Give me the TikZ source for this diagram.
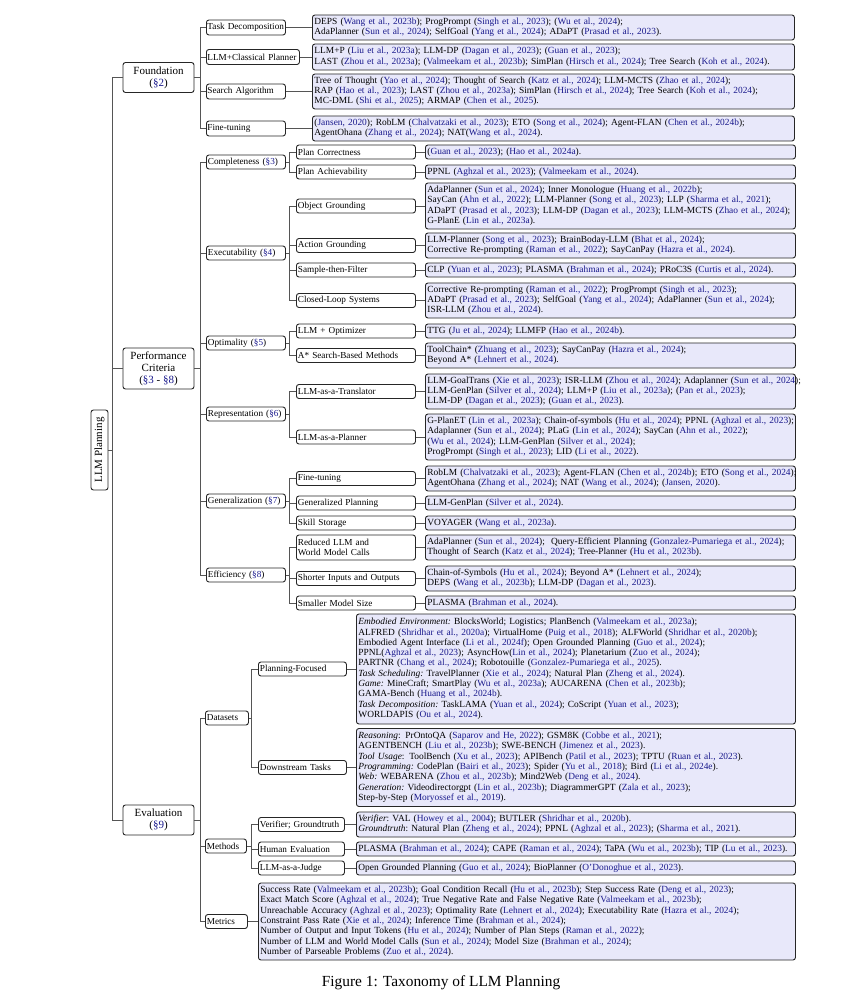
\documentclass[tikz,border=0pt]{standalone}
\usepackage{fontspec}
\setmainfont{Liberation Serif}
\usetikzlibrary{calc}
\definecolor{citeblue}{rgb}{0.1,0.1,0.55}
\definecolor{leaffill}{RGB}{232,232,250}
\definecolor{linegray}{RGB}{85,85,85}
\newcommand{\cty}[1]{(\textcolor{citeblue}{#1})}
\newcommand{\sref}[1]{\textcolor{citeblue}{§#1}}
\newcommand{\rows}[1]{\begin{tabular}{@{}l@{}}#1\end{tabular}}
\tikzset{
  anybox/.style={draw=black!85, line width=0.9pt, rounded corners=2.5pt},
  leafbox/.style={anybox, fill=leaffill, anchor=west, align=left, inner xsep=2pt, inner ysep=0pt, font=\fontsize{9.4}{10.3}\selectfont},
  midbox/.style={anybox, fill=white, anchor=west, align=left, inner xsep=1.5pt, inner ysep=0pt, minimum height=14pt, font=\fontsize{9.2}{10.3}\selectfont},
  lvlone/.style={anybox, fill=white, align=center, inner sep=0pt, minimum width=71pt, font=\fontsize{11}{12.2}\selectfont},
  conn/.style={draw=linegray, line width=0.8pt},
}
\begin{document}
\begin{tikzpicture}[x=1pt,y=-1pt]
\fill[white] (0,0) rectangle (854,1000);
\useasboundingbox (0,0) rectangle (854,1000);

% root and level 1
\node[anybox, fill=white, rotate=90, minimum width=80pt, minimum height=17pt, inner sep=0pt, font=\fontsize{11}{12.2}\selectfont] (root) at (99.5,450) {LLM Planning};
\node[lvlone, minimum height=30pt] (found) at (158.5,77.5) {Foundation\\(\sref{2})};
\node[lvlone, minimum height=41pt] (perf) at (158.5,368.5) {Performance\\Criteria\\(\sref{3} - \sref{8})};
\node[lvlone, minimum height=30pt] (eval) at (158.5,820) {Evaluation\\(\sref{9})};

\coordinate (b0) at (112,0);
\coordinate (b1) at (200,0);
\coordinate (b2) at (289,0);
\coordinate (b3) at (251.5,0);

% ---------------- Foundation ----------------
\node[midbox, inner xsep=1pt, text width=77pt, minimum height=15pt] (fTD) at (206,27.5) {Task Decomposition};
\node[midbox, inner xsep=1pt, text width=91pt, minimum height=15pt] (fLCP) at (206,57) {LLM+Classical Planner};
\node[midbox, inner xsep=1pt, text width=77pt, minimum height=15pt] (fSA) at (206,91.5) {Search Algorithm};
\node[midbox, inner xsep=1pt, text width=77pt, minimum height=15pt] (fFT) at (206,128.5) {Fine-tuning};

\node[leafbox, text width=478pt, minimum height=25pt] (lTD) at (312,27.5) {\rows{DEPS \cty{Wang et al., 2023b}; ProgPrompt \cty{Singh et al., 2023}; \cty{Wu et al., 2024};\\
AdaPlanner \cty{Sun et al., 2024}; SelfGoal \cty{Yang et al., 2024}; ADaPT \cty{Prasad et al., 2023}.}};
\node[leafbox, text width=478pt, minimum height=26pt] (lLCP) at (312,57) {\rows{LLM+P \cty{Liu et al., 2023a}; LLM-DP \cty{Dagan et al., 2023}; \cty{Guan et al., 2023};\\
LAST \cty{Zhou et al., 2023a}; \cty{Valmeekam et al., 2023b}; SimPlan \cty{Hirsch et al., 2024}; Tree Search \cty{Koh et al., 2024}.}};
\node[leafbox, text width=478pt, minimum height=35pt] (lSA) at (312,91.5) {\rows{Tree of Thought \cty{Yao et al., 2024}; Thought of Search \cty{Katz et al., 2024}; LLM-MCTS \cty{Zhao et al., 2024};\\
RAP \cty{Hao et al., 2023}; LAST \cty{Zhou et al., 2023a}; SimPlan \cty{Hirsch et al., 2024}; Tree Search \cty{Koh et al., 2024};\\
MC-DML \cty{Shi et al., 2025}; ARMAP \cty{Chen et al., 2025}.}};
\node[leafbox, text width=478pt, minimum height=25pt] (lFT) at (312,128.5) {\rows{\cty{Jansen, 2020}; RobLM \cty{Chalvatzaki et al., 2023}; ETO \cty{Song et al., 2024}; Agent-FLAN \cty{Chen et al., 2024b};\\
AgentOhana \cty{Zhang et al., 2024}; NAT\cty{Wang et al., 2024}.}};

% ---------------- Performance ----------------
\node[midbox, text width=76pt] (cmp) at (206,162) {Completeness (\sref{3})};
\node[midbox, text width=76pt] (exe) at (206,253) {Executability (\sref{4})};
\node[midbox, text width=76pt] (opt) at (206,343) {Optimality (\sref{5})};
\node[midbox, text width=76pt] (rep) at (206,414) {Representation (\sref{6})};
\node[midbox, text width=76pt] (gen) at (206,501) {Generalization (\sref{7})};
\node[midbox, text width=76pt] (eff) at (206,575) {Efficiency (\sref{8})};

\node[midbox, text width=116pt] (pc) at (296,152) {Plan Correctness};
\node[midbox, text width=116pt] (pa) at (296,172) {Plan Achievability};
\node[midbox, text width=116pt] (og) at (296,206) {Object Grounding};
\node[midbox, text width=116pt] (ag) at (296,245.5) {Action Grounding};
\node[midbox, text width=116pt] (stf) at (296,270) {Sample-then-Filter};
\node[midbox, text width=116pt] (cls) at (296,300.5) {Closed-Loop Systems};
\node[midbox, text width=116pt] (lo) at (296,331) {LLM + Optimizer};
\node[midbox, text width=116pt] (astar) at (296,355.5) {A* Search-Based Methods};
\node[midbox, text width=116pt] (lat) at (296,391.5) {LLM-as-a-Translator};
\node[midbox, text width=116pt] (lap) at (296,437) {LLM-as-a-Planner};
\node[midbox, text width=116pt] (ftg) at (296,478.5) {Fine-tuning};
\node[midbox, text width=116pt] (gp) at (296,503) {Generalized Planning};
\node[midbox, text width=116pt] (ss) at (296,523) {Skill Storage};
\node[midbox, text width=116pt, minimum height=25pt] (rlm) at (296,547.5) {Reduced LLM and\\World Model Calls};
\node[midbox, text width=116pt] (sio) at (296,578.5) {Shorter Inputs and Outputs};
\node[midbox, text width=116pt] (sms) at (296,603) {Smaller Model Size};

\node[leafbox, text width=366pt, minimum height=14pt] (lpc) at (425,152) {\rows{\cty{Guan et al., 2023}; \cty{Hao et al., 2024a}.}};
\node[leafbox, text width=366pt, minimum height=14pt] (lpa) at (425,172) {\rows{PPNL \cty{Aghzal et al., 2023}; \cty{Valmeekam et al., 2024}.}};
\node[leafbox, text width=366pt, minimum height=46pt] (log) at (425,206) {\rows{AdaPlanner \cty{Sun et al., 2024}; Inner Monologue \cty{Huang et al., 2022b};\\
SayCan \cty{Ahn et al., 2022}; LLM-Planner \cty{Song et al., 2023}; LLP \cty{Sharma et al., 2021};\\
ADaPT \cty{Prasad et al., 2023}; LLM-DP \cty{Dagan et al., 2023}; LLM-MCTS \cty{Zhao et al., 2024};\\
G-PlanE \cty{Lin et al., 2023a}.}};
\node[leafbox, text width=366pt, minimum height=25pt] (lag) at (425,245.5) {\rows{LLM-Planner \cty{Song et al., 2023}; BrainBoday-LLM \cty{Bhat et al., 2024};\\
Corrective Re-prompting \cty{Raman et al., 2022}; SayCanPay \cty{Hazra et al., 2024}.}};
\node[leafbox, text width=366pt, minimum height=14pt] (lstf) at (425,270) {\rows{CLP \cty{Yuan et al., 2023}; PLASMA \cty{Brahman et al., 2024}; PRoC3S \cty{Curtis et al., 2024}.}};
\node[leafbox, text width=366pt, minimum height=35pt] (lcls) at (425,300.5) {\rows{Corrective Re-prompting \cty{Raman et al., 2022}; ProgPrompt \cty{Singh et al., 2023};\\
ADaPT \cty{Prasad et al., 2023}; SelfGoal \cty{Yang et al., 2024}; AdaPlanner \cty{Sun et al., 2024};\\
ISR-LLM \cty{Zhou et al., 2024}.}};
\node[leafbox, text width=366pt, minimum height=14pt] (llo) at (425,331) {\rows{TTG \cty{Ju et al., 2024}; LLMFP \cty{Hao et al., 2024b}.}};
\node[leafbox, text width=366pt, minimum height=25pt] (lastar) at (425,355.5) {\rows{ToolChain* \cty{Zhuang et al., 2023}; SayCanPay \cty{Hazra et al., 2024};\\
Beyond A* \cty{Lehnert et al., 2024}.}};
\node[leafbox, text width=366pt, minimum height=35pt] (llat) at (425,391.5) {\rows{LLM-GoalTrans \cty{Xie et al., 2023}; ISR-LLM \cty{Zhou et al., 2024}; Adaplanner \cty{Sun et al., 2024};\\
LLM-GenPlan \cty{Silver et al., 2024}; LLM+P \cty{Liu et al., 2023a}; \cty{Pan et al., 2023};\\
LLM-DP \cty{Dagan et al., 2023}; \cty{Guan et al., 2023}.}};
\node[leafbox, text width=366pt, minimum height=46pt] (llap) at (425,437) {\rows{G-PlanET \cty{Lin et al., 2023a}; Chain-of-symbols \cty{Hu et al., 2024}; PPNL \cty{Aghzal et al., 2023};\\
Adaplanner \cty{Sun et al., 2024}; PLaG \cty{Lin et al., 2024}; SayCan \cty{Ahn et al., 2022};\\
\cty{Wu et al., 2024}; LLM-GenPlan \cty{Silver et al., 2024};\\
ProgPrompt \cty{Singh et al., 2023}; LID \cty{Li et al., 2022}.}};
\node[leafbox, text width=366pt, minimum height=25pt] (lftg) at (425,478.5) {\rows{RobLM \cty{Chalvatzaki et al., 2023}; Agent-FLAN \cty{Chen et al., 2024b}; ETO \cty{Song et al., 2024};\\
AgentOhana \cty{Zhang et al., 2024}; NAT \cty{Wang et al., 2024}; \cty{Jansen, 2020}.}};
\node[leafbox, text width=366pt, minimum height=14pt] (lgp) at (425,503) {\rows{LLM-GenPlan \cty{Silver et al., 2024}.}};
\node[leafbox, text width=366pt, minimum height=14pt] (lss) at (425,523) {\rows{VOYAGER \cty{Wang et al., 2023a}.}};
\node[leafbox, text width=366pt, minimum height=25pt] (lrlm) at (425,547.5) {\rows{AdaPlanner \cty{Sun et al., 2024};\ \ Query-Efficient Planning \cty{Gonzalez-Pumariega et al., 2024};\\
Thought of Search \cty{Katz et al., 2024}; Tree-Planner \cty{Hu et al., 2023b}.}};
\node[leafbox, text width=366pt, minimum height=25pt] (lsio) at (425,578.5) {\rows{Chain-of-Symbols \cty{Hu et al., 2024}; Beyond A* \cty{Lehnert et al., 2024};\\
DEPS \cty{Wang et al., 2023b}; LLM-DP \cty{Dagan et al., 2023}.}};
\node[leafbox, text width=366pt, minimum height=14pt] (lsms) at (425,603) {\rows{PLASMA \cty{Brahman et al., 2024}.}};

% ---------------- Evaluation ----------------
\node[midbox, text width=40pt] (ds) at (205,718) {Datasets};
\node[midbox, text width=38pt] (meth) at (205,846) {Methods};
\node[midbox, text width=39pt] (met) at (205,921.5) {Metrics};

\node[midbox, text width=85pt] (pf) at (258,669) {Planning-Focused};
\node[midbox, text width=85pt] (dt) at (258,767.5) {Downstream Tasks};
\node[midbox, text width=83pt] (ver) at (258,824.5) {Verifier; Groundtruth};
\node[midbox, text width=83pt] (he) at (258,849) {Human Evaluation};
\node[midbox, text width=83pt] (jud) at (258,868) {LLM-as-a-Judge};

\node[leafbox, text width=435pt, minimum height=110pt] (lpf) at (356,669) {\rows{\emph{Embodied Environment:}\ BlocksWorld; Logistics; PlanBench \cty{Valmeekam et al., 2023a};\\
ALFRED \cty{Shridhar et al., 2020a}; VirtualHome \cty{Puig et al., 2018}; ALFWorld \cty{Shridhar et al., 2020b};\\
Embodied Agent Interface \cty{Li et al., 2024f}; Open Grounded Planning \cty{Guo et al., 2024};\\
PPNL\cty{Aghzal et al., 2023}; AsyncHow\cty{Lin et al., 2024}; Planetarium \cty{Zuo et al., 2024};\\
PARTNR \cty{Chang et al., 2024}; Robotouille \cty{Gonzalez-Pumariega et al., 2025}.\\
\emph{Task Scheduling:}\ TravelPlanner \cty{Xie et al., 2024}; Natural Plan \cty{Zheng et al., 2024}.\\
\emph{Game:}\ MineCraft; SmartPlay \cty{Wu et al., 2023a}; AUCARENA \cty{Chen et al., 2023b};\\
GAMA-Bench \cty{Huang et al., 2024b}.\\
\emph{Task Decomposition:}\ TaskLAMA \cty{Yuan et al., 2024}; CoScript \cty{Yuan et al., 2023};\\
WORLDAPIS \cty{Ou et al., 2024}.}};
\node[leafbox, text width=435pt, minimum height=78pt] (ldt) at (356,767.5) {\rows{\emph{Reasoning}: PrOntoQA \cty{Saparov and He, 2022}; GSM8K \cty{Cobbe et al., 2021};\\
AGENTBENCH \cty{Liu et al., 2023b}; SWE-BENCH \cty{Jimenez et al., 2023}.\\
\emph{Tool Usage}: ToolBench \cty{Xu et al., 2023}; APIBench \cty{Patil et al., 2023}; TPTU \cty{Ruan et al., 2023}.\\
\emph{Programming:}\ CodePlan \cty{Bairi et al., 2023}; Spider \cty{Yu et al., 2018}; Bird \cty{Li et al., 2024e}.\\
\emph{Web:}\ WEBARENA \cty{Zhou et al., 2023b}; Mind2Web \cty{Deng et al., 2024}.\\
\emph{Generation:}\ Videodirectorgpt \cty{Lin et al., 2023b}; DiagrammerGPT \cty{Zala et al., 2023};\\
Step-by-Step \cty{Moryossef et al., 2019}.}};
\node[leafbox, text width=435pt, minimum height=25pt] (lver) at (356,824.5) {\rows{\emph{Verifier}:\ VAL \cty{Howey et al., 2004}; BUTLER \cty{Shridhar et al., 2020b}.\\
\emph{Groundtruth}:\ Natural Plan \cty{Zheng et al., 2024}; PPNL \cty{Aghzal et al., 2023}; \cty{Sharma et al., 2021}.}};
\node[leafbox, text width=435pt, minimum height=14pt] (lhe) at (356,849) {\rows{PLASMA \cty{Brahman et al., 2024}; CAPE \cty{Raman et al., 2024}; TaPA \cty{Wu et al., 2023b}; TIP \cty{Lu et al., 2023}.}};
\node[leafbox, text width=435pt, minimum height=14pt] (ljud) at (356,868) {\rows{Open Grounded Planning \cty{Guo et al., 2024}; BioPlanner \cty{O'Donoghue et al., 2023}.}};
\node[leafbox, text width=533pt, minimum height=77pt] (lmet) at (258,921.5) {\rows{Success Rate \cty{Valmeekam et al., 2023b}; Goal Condition Recall \cty{Hu et al., 2023b}; Step Success Rate \cty{Deng et al., 2023};\\
Exact Match Score \cty{Aghzal et al., 2024}; True Negative Rate and False Negative Rate \cty{Valmeekam et al., 2023b};\\
Unreachable Accuracy \cty{Aghzal et al., 2023}; Optimality Rate \cty{Lehnert et al., 2024}; Executability Rate \cty{Hazra et al., 2024};\\
Constraint Pass Rate \cty{Xie et al., 2024}; Inference Time \cty{Brahman et al., 2024};\\
Number of Output and Input Tokens \cty{Hu et al., 2024}; Number of Plan Steps \cty{Raman et al., 2022};\\
Number of LLM and World Model Calls \cty{Sun et al., 2024}; Model Size \cty{Brahman et al., 2024};\\
Number of Parseable Problems \cty{Zuo et al., 2024}.}};

% caption
\node[font=\fontsize{15.4}{18}\selectfont] (cap) at (441,983) {Figure 1: Taxonomy of LLM Planning};

% ---------------- connectors ----------------
\foreach \c in {found,perf,eval}
  \draw[conn] (root.south) -- (root.south -| b0) |- (\c.west);
\foreach \c in {fTD,fLCP,fSA,fFT}
  \draw[conn] (found.east) -- (found.east -| b1) |- (\c.west);
\foreach \c in {cmp,exe,opt,rep,gen,eff}
  \draw[conn] (perf.east) -- (perf.east -| b1) |- (\c.west);
\foreach \c in {ds,meth,met}
  \draw[conn] (eval.east) -- (eval.east -| b1) |- (\c.west);

\foreach \p/\c in {cmp/pc,cmp/pa,exe/og,exe/ag,exe/stf,exe/cls,opt/lo,opt/astar,rep/lat,rep/lap,gen/ftg,gen/gp,gen/ss,eff/rlm,eff/sio,eff/sms}
  \draw[conn] (\p.east) -- (\p.east -| b2) |- (\c.west);
\foreach \p/\c in {ds/pf,ds/dt,meth/ver,meth/he,meth/jud}
  \draw[conn] (\p.east) -- (\p.east -| b3) |- (\c.west);

\foreach \p/\c in {fTD/lTD,fLCP/lLCP,fSA/lSA,fFT/lFT,pc/lpc,pa/lpa,og/log,ag/lag,stf/lstf,cls/lcls,lo/llo,astar/lastar,lat/llat,lap/llap,ftg/lftg,gp/lgp,ss/lss,rlm/lrlm,sio/lsio,sms/lsms,pf/lpf,dt/ldt,ver/lver,he/lhe,jud/ljud,met/lmet}
  \draw[conn] (\p.east) -- (\c.west);
\end{tikzpicture}
\end{document}
